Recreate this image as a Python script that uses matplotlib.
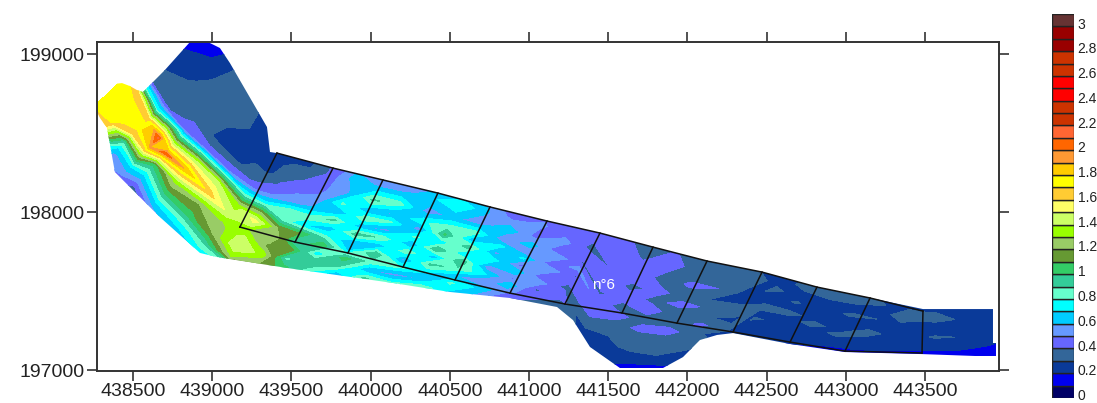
import matplotlib
matplotlib.use('Agg')
import matplotlib.pyplot as plt
from matplotlib.patches import Polygon
import numpy as np

plt.rcParams['font.family'] = ['Liberation Sans', 'DejaVu Sans']

# colour classes, one per 0.1 step from 0 up to 3
levels = [i / 10 for i in range(32)]
class_colors = ['#000066', '#0000ee', '#0a3a99', '#336699', '#6666ff', '#6699ff',
                '#00ccff', '#00ffff', '#66ffcc', '#33cc99', '#33cc66', '#669933',
                '#99cc66', '#99ff00', '#ccff66', '#ffff66', '#ffcc33', '#ffff00',
                '#ffcc00', '#ff9933', '#ff6600', '#ff6633', '#cc3300', '#cc3300',
                '#ff0000', '#ff0000', '#cc3300', '#cc3300', '#990000', '#990000',
                '#663333']
bar_labels = ['0', '0.2', '0.4', '0.6', '0.8', '1', '1.2', '1.4', '1.6', '1.8',
              '2', '2.2', '2.4', '2.6', '2.8', '3']
bar_values = [0, .2, .4, .6, .8, 1, 1.2, 1.4, 1.6, 1.8, 2, 2.2, 2.4, 2.6, 2.8, 3]

# cross sections of the reach, lower end then upper end
sec_x_low = [438216, 438279, 438342, 438380, 438443, 438582, 438734, 438898, 439081,
             439264, 439415, 439586, 439756, 439933, 440110, 440280, 440457, 440627,
             440804, 440975, 441151, 441227, 441385, 441562, 441739, 441922, 442111,
             442300, 442490, 442660, 442837, 443014, 443191, 443374, 443563, 443689,
             443816, 443973]
sec_y_low = [198633, 198487, 198342, 198171, 198095, 197994, 197842, 197747, 197665,
             197620, 197601, 197582, 197557, 197532, 197506, 197481, 197462, 197430,
             197411, 197386, 197367, 196968, 196968, 196968, 196968, 196968, 196968,
             197158, 197127, 197095, 197076, 197063, 197063, 197063, 197051, 197051,
             197051, 197051]
sec_x_up = [438784, 438891, 439081, 439175, 439365, 439491, 439617, 439649, 439617,
            439693, 439807, 439965, 440110, 440274, 440451, 440615, 440785, 440956,
            441133, 441309, 441480, 441625, 441795, 441966, 442130, 442300, 442471,
            442648, 442805, 442976, 443140, 443298, 443437, 443531, 443563, 443689,
            443816, 443973]
sec_y_up = [199165, 199101, 199057, 199025, 199089, 198962, 198835, 198582, 198456,
            198405, 198354, 198329, 198278, 198253, 198196, 198152, 198108, 198063,
            198013, 197975, 197930, 197899, 197854, 197810, 197759, 197728, 197677,
            197646, 197601, 197557, 197506, 197475, 197443, 197424, 197424, 197424,
            197424, 197424]
across = [0, .07, .14, .21, .28, .35, .42, .49, .56, .63, .72, .84, 1]

# depth read along every section, lower bank first
depth = [
    [1.7, 1.72, 1.72, 1.75, 1.72, 1.75, 1.72, 1.7, 1.7, .3, .25, .2, .15],
    [1.0, 1.55, 1.72, 1.78, 1.75, 1.72, 1.62, .8, .36, .32, .28, .22, .15],
    [.55, .62, .9, 1.6, 1.78, 1.62, .8, .38, .35, .33, .28, .22, .15],
    [.4, .5, .72, 1.25, 1.9, 2.12, 1.3, .42, .36, .33, .33, .27, .2],
    [.28, .4, .7, 1.05, 2.05, 1.3, .5, .38, .34, .33, .32, .3, .25],
    [.4, .7, 1.05, 1.35, 1.88, 1.35, .45, .28, .3, .34, .34, .3, .25],
    [.6, .72, 1.05, 1.2, 1.65, 1.4, .5, .27, .25, .27, .25, .25, .25],
    [.7, .92, 1.2, 1.25, 1.45, 1.35, .85, .45, .35, .25, .25, .2, .2],
    [.8, 1.3, 1.5, 1.45, 1.3, 1.55, 1.2, .75, .5, .42, .35, .28, .25],
    [.8, 1.2, 1.35, 1.15, 1.3, 1.2, .85, .9, .58, .5, .42, .3, .25],
    [.7, 1.05, .85, 1.15, .9, 1.1, .7, .85, .62, .52, .48, .42, .4],
    [.7, .85, 1.0, .7, 1.08, .82, .62, .92, .6, .82, .58, .65, .5],
    [.75, .62, .9, 1.05, .68, .6, .95, .62, .88, .6, .92, .58, .6],
    [.7, .92, .6, .85, 1.0, .62, .88, .55, .82, .58, .85, .55, .5],
    [.62, .8, .55, .82, .55, .88, .58, .82, .52, .78, .55, .68, .5],
    [.7, .88, .6, .72, .92, .62, 1.0, .72, 1.02, .85, .62, .8, .5],
    [.6, .72, .82, .62, .88, 1.0, .68, .95, .62, .85, .55, .62, .5],
    [.5, .58, .68, .48, .72, .52, .78, .56, .75, .5, .68, .46, .45],
    [.3, .4, .52, .68, .48, .68, .46, .72, .48, .66, .46, .52, .42],
    [.3, .35, .46, .38, .55, .4, .6, .42, .6, .42, .55, .42, .4],
    [.3, .35, .4, .44, .34, .48, .38, .54, .38, .48, .36, .44, .35],
    [.2, .22, .22, .25, .27, .32, .44, .47, .38, .5, .4, .48, .4],
    [.15, .2, .25, .27, .3, .33, .44, .35, .47, .36, .5, .38, .35],
    [.1, .18, .26, .33, .32, .44, .34, .47, .36, .44, .34, .47, .35],
    [.1, .18, .28, .36, .33, .45, .34, .31, .44, .34, .42, .32, .35],
    [.15, .2, .25, .3, .38, .32, .42, .31, .38, .29, .4, .33, .3],
    [.2, .22, .22, .24, .26, .24, .34, .27, .35, .3, .26, .34, .28],
    [.2, .22, .24, .28, .26, .31, .26, .34, .28, .26, .32, .26, .3],
    [.15, .18, .22, .26, .23, .28, .25, .33, .26, .31, .26, .33, .3],
    [.14, .16, .2, .24, .23, .26, .34, .26, .29, .24, .29, .32, .3],
    [.14, .16, .18, .22, .27, .32, .25, .29, .24, .32, .26, .33, .3],
    [.14, .15, .18, .25, .22, .29, .36, .27, .24, .3, .26, .3, .3],
    [.14, .15, .18, .26, .24, .29, .25, .3, .24, .3, .35, .3, .3],
    [.14, .15, .18, .22, .27, .3, .25, .28, .3, .26, .33, .3, .3],
    [.14, .15, .16, .22, .3, .24, .32, .26, .3, .27, .33, .3, .3],
    [.14, .15, .16, .22, .28, .25, .3, .25, .28, .24, .3, .27, .27],
    [.12, .14, .15, .17, .24, .3, .24, .28, .23, .28, .24, .27, .27],
    [.12, .12, .14, .15, .17, .2, .24, .22, .25, .22, .25, .24, .24],
]

# outline of the surveyed area
edge_x = [438273, 438273, 438292, 438330, 438374, 438431, 438481, 438525, 438563, 438702,
          438860, 438973, 439049, 439112, 439346, 439365, 439409, 439763, 440078, 440425,
          440754, 441114, 441448, 441783, 442124, 442471, 442818, 443153, 443487, 443929,
          443929, 443948, 443948, 443816, 443481, 442995, 442648, 442288, 442187, 442079,
          441972, 441846, 441574, 441385, 441278, 441177, 440880, 440501, 440141, 439472,
          439030, 438923, 438670, 438386, 438336, 438292]
edge_y = [198633, 198709, 198753, 198791, 198810, 198816, 198797, 198772, 198759, 198899,
          199076, 199076, 199038, 198943, 198538, 198380, 198373, 198278, 198203, 198120,
          198032, 197943, 197867, 197778, 197690, 197620, 197525, 197456, 197386, 197386,
          197171, 197171, 197089, 197089, 197101, 197114, 197165, 197234, 197222, 197190,
          197082, 197013, 197013, 197146, 197316, 197399, 197456, 197494, 197551, 197646,
          197715, 197741, 197968, 198253, 198532, 198595]

# transects drawn in black
tr_x_low = [439175, 439523, 439857, 440205, 440533, 440880, 441227, 441587, 441934,
            442288, 442648, 442995, 443481]
tr_y_low = [197905, 197810, 197741, 197652, 197570, 197487, 197418, 197361, 197297,
            197241, 197177, 197120, 197108]
tr_x_up = [439409, 439763, 440078, 440425, 440754, 441114, 441448, 441783, 442124,
           442471, 442818, 443153, 443487]
tr_y_up = [198373, 198278, 198203, 198120, 198032, 197943, 197867, 197778, 197690,
           197620, 197525, 197456, 197373]

x_ticks = [438500, 439000, 439500, 440000, 440500, 441000, 441500, 442000, 442500,
           443000, 443500]
y_ticks = [197000, 198000, 199000]

W, H = 1097, 403
fig = plt.figure(figsize=(W / 100, H / 100), dpi=100)
ax = fig.add_axes([97 / W, (H - 371) / H, 902 / W, 329 / H])

# grid of the sections, the library does the contouring
frac = np.array(across)[None, :]
X = np.array(sec_x_low)[:, None] * (1 - frac) + np.array(sec_x_up)[:, None] * frac
Y = np.array(sec_y_low)[:, None] * (1 - frac) + np.array(sec_y_up)[:, None] * frac
cs = ax.contourf(X, Y, np.array(depth), levels=levels, colors=class_colors)
outline = Polygon(np.column_stack([edge_x, edge_y]), closed=True, fc='none', ec='none',
                  transform=ax.transData)
ax.add_patch(outline)
cs.set_clip_path(outline)

# transect frame
ax.plot(tr_x_low, tr_y_low, color='#111111', lw=1.1)
ax.plot(tr_x_up, tr_y_up, color='#111111', lw=1.1)
for i in range(len(tr_x_low)):
    ax.plot([tr_x_low[i], tr_x_up[i]], [tr_y_low[i], tr_y_up[i]], color='#111111', lw=1.1)
ax.text(441473, 197538, 'n°6', color='white', fontsize=11, ha='center', va='center')

ax.set_xlim(438273, 443967)
ax.set_ylim(196994, 199076)
ax.set_xticks(x_ticks)
ax.set_yticks(y_ticks)
ax.set_xticklabels([str(v) for v in x_ticks])
ax.set_yticklabels([str(v) for v in y_ticks])
ax.tick_params(axis='both', direction='out', length=7.5, width=1.2, color='#333333',
               labelsize=14, labelcolor='#222222', top=True, right=True, pad=1.5)
for s in ax.spines.values():
    s.set_linewidth(1.4)
    s.set_color('#333333')

# class key on the right
cax = fig.add_axes([1052 / W, (H - 398) / H, 22 / W, 384 / H])
for i in range(len(class_colors)):
    cax.barh(levels[i] + .05, 1, height=.1, color=class_colors[i], edgecolor='#222222', lw=1)
cax.set_xlim(0, 1)
cax.set_ylim(0, 3.1)
cax.axis('off')
for v, lab in zip(bar_values, bar_labels):
    cax.text(1.16, v + .015, lab, fontsize=10, color='#222222', ha='left', va='center',
             clip_on=False)

fig.savefig('out.png', dpi=100)
